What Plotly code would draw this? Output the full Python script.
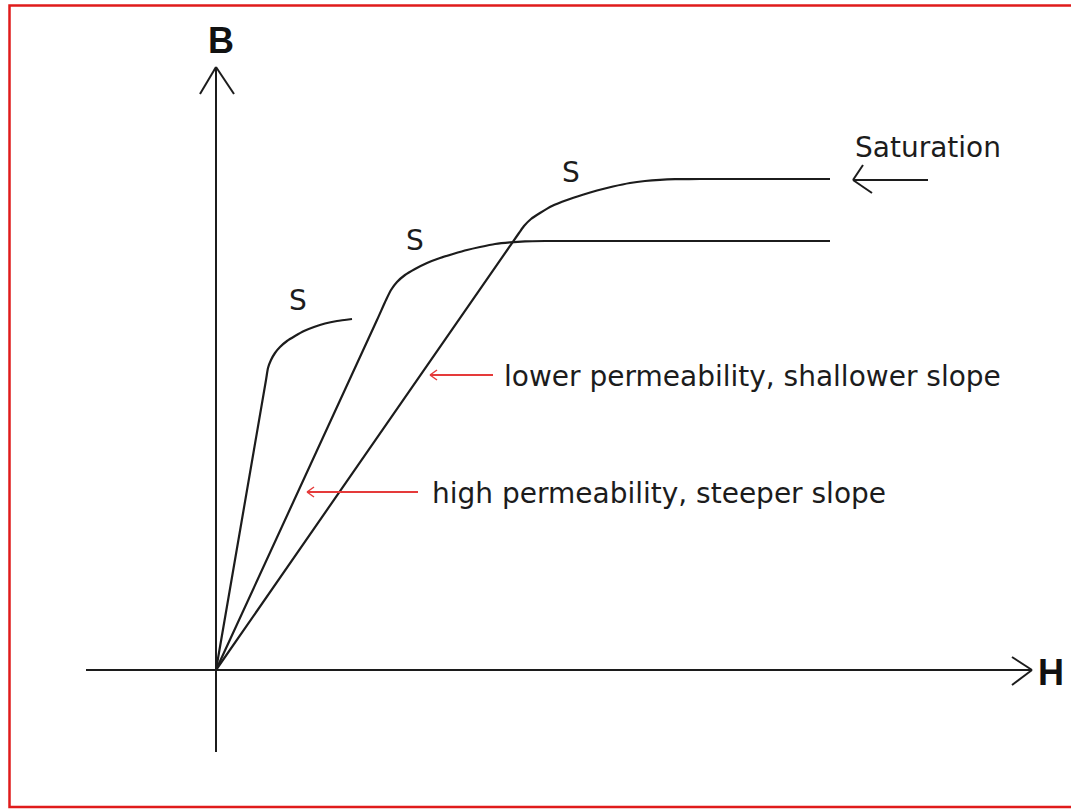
import plotly.graph_objects as go

# ---- data (H, B in drawing units; origin at the axes crossing) ----
curve_steep_h = [0, 50, 52, 55, 59, 64, 71, 79, 88, 98, 109, 121, 136]
curve_steep_b = [0, 290, 302, 310, 317, 323, 329, 334, 339, 343, 346.5, 349, 351]

curve_mid_h = [0, 161, 170, 175, 181, 189, 199, 211, 224, 237, 251, 264, 279, 294, 309, 329, 614]
curve_mid_b = [0, 350, 370, 380, 388, 395, 401, 407, 412, 416, 420, 423, 426, 427.7, 428.7, 429, 429]

curve_shallow_h = [0, 303, 308, 315, 324, 336, 351, 366, 381, 397, 414, 429, 444, 459, 484, 614]
curve_shallow_b = [0, 437, 444, 451, 457, 464, 470, 475, 479.5, 483.5, 487, 489, 490.2, 490.8, 491, 491]

s_label_h = [82, 199, 355]
s_label_b = [367, 427, 495]

# axes / arrows geometry (drawing units)
h_axis_x = [-130, 816]
b_axis_y = [-82, 603]
h_arrow_arms = [(796, 13), (796, -15)]
b_arrow_arms = [(-16, 576), (18, 576)]
sat_arrow = dict(tip=(637, 490), tail=(712, 490), arms=[(647, 505), (656, 477)])
low_arrow = dict(tip=(214, 295), tail=(277, 295), arms=[(221, 300), (221, 290)])
high_arrow = dict(tip=(91, 178), tail=(202, 178), arms=[(98, 183), (98, 173)])

INK = "#1c1c1c"
RED = "#e53a3a"
TXT = "DejaVu Sans"

fig = go.Figure()
for hx, by in [(curve_steep_h, curve_steep_b), (curve_mid_h, curve_mid_b),
               (curve_shallow_h, curve_shallow_b)]:
    fig.add_trace(go.Scatter(x=hx, y=by, mode="lines",
                             line=dict(color=INK, width=2.2, shape="spline", smoothing=0.6),
                             hoverinfo="skip", showlegend=False))

fig.add_trace(go.Scatter(x=s_label_h, y=s_label_b, mode="text", text=["S"] * 3,
                         textfont=dict(family=TXT, size=28, color=INK),
                         textposition="middle center", showlegend=False,
                         hoverinfo="skip"))

shapes = []
def seg(p, q, color=INK, width=2):
    shapes.append(dict(type="line", xref="x", yref="y", x0=p[0], y0=p[1],
                       x1=q[0], y1=q[1], line=dict(color=color, width=width)))

# axes
seg((h_axis_x[0], 0), (h_axis_x[1], 0))
seg((0, b_axis_y[0]), (0, b_axis_y[1]))
for a in h_arrow_arms:
    seg((h_axis_x[1], 0), a)
for a in b_arrow_arms:
    seg((0, b_axis_y[1]), a)

# arrows
seg(sat_arrow["tip"], sat_arrow["tail"])
for a in sat_arrow["arms"]:
    seg(sat_arrow["tip"], a)
for arr in (low_arrow, high_arrow):
    seg(arr["tip"], arr["tail"], RED, 2)
    for a in arr["arms"]:
        seg(arr["tip"], a, RED, 1.5)

# red frame
W, H = 1071, 809
shapes.append(dict(type="rect", xref="paper", yref="paper",
                   x0=9.5 / W, x1=1080 / W, y0=1 - 807 / H, y1=1 - 5.5 / H,
                   line=dict(color="#e01b1b", width=2.5)))

annotations = [
    dict(x=5, y=630, text="<b>B</b>", showarrow=False,
         font=dict(family="Liberation Sans", size=36, color="#111")),
    dict(x=835, y=-2, text="<b>H</b>", showarrow=False,
         font=dict(family="Liberation Sans", size=36, color="#111")),
    dict(x=637, y=523, text="Saturation", showarrow=False, xanchor="left",
         font=dict(family=TXT, size=28, color=INK)),
    dict(x=286, y=294, text="lower permeability, shallower slope", showarrow=False,
         xanchor="left", font=dict(family=TXT, size=28, color=INK)),
    dict(x=214, y=177, text="high permeability, steeper slope", showarrow=False,
         xanchor="left", font=dict(family=TXT, size=28, color=INK)),
]

fig.update_layout(
    width=W, height=H, autosize=False,
    margin=dict(l=0, r=0, t=0, b=0),
    paper_bgcolor="white", plot_bgcolor="white",
    xaxis=dict(range=[-216, W - 216], visible=False, fixedrange=True),
    yaxis=dict(range=[670 - H, 670], visible=False, fixedrange=True),
    shapes=shapes, annotations=annotations, showlegend=False,
)

fig.write_html("out.html", config={"displayModeBar": False},
               post_script="document.body.style.margin='0';document.body.style.overflow='hidden';")
